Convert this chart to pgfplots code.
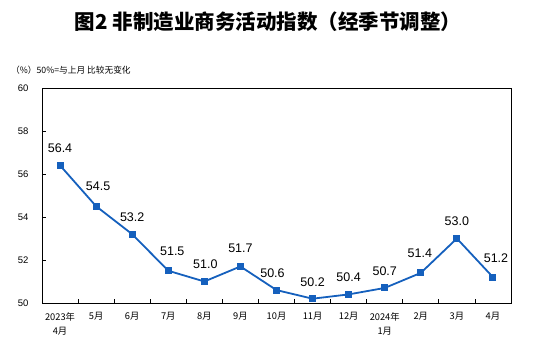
\documentclass[border=0pt]{standalone}
\usepackage{pgfplots}
\pgfplotsset{compat=1.18}
\usepackage{pgfplotstable}
\usepackage{fontspec}
\setmainfont{Liberation Sans}
\newfontfamily\cjk{Noto Sans CJK SC}
\definecolor{lineblue}{RGB}{21,96,189}

\pgfplotstableread{
x y label dx dy
0 56.4 56.4 0 17
1 54.5 54.5 2 20
2 53.2 53.2 0 17
3 51.5 51.5 4 19
4 51.0 51.0 1 17
5 51.7 51.7 0 18
6 50.6 50.6 -4 17
7 50.2 50.2 0 17
8 50.4 50.4 0 17
9 50.7 50.7 0 17
10 51.4 51.4 -1 20
11 53.0 53.0 0 17
12 51.2 51.2 3 19
}\datatable

\begin{document}
\begin{tikzpicture}[x=1pt,y=1pt]
\path[use as bounding box] (0,0) rectangle (535,358);
\node[font=\cjk\bfseries\fontsize{20.5}{24}\selectfont] at (268,336) {图2 非制造业商务活动指数（经季节调整）};
\node[anchor=west, inner sep=0pt, font=\cjk\fontsize{8.7}{10}\selectfont] at (11,288) {（\%）50\%=与上月 比较无变化};
\begin{axis}[
  at={(42pt,55pt)}, anchor=south west,
  width=469pt, height=215pt, scale only axis,
  xmin=-0.5, xmax=12.5, ymin=50, ymax=60,
  ytick={50,52,...,60},
  xtick={0.5,1.5,...,11.5},
  xticklabels={},
  extra x ticks={0,1,...,12},
  extra x tick labels={{2023年\\4月},5月,6月,7月,8月,9月,10月,11月,12月,{2024年\\1月},2月,3月,4月},
  extra x tick style={major tick length=0pt, tick label style={font=\cjk\fontsize{9.3}{14}\selectfont, align=center, yshift=-6pt}},
  tick pos=left,
  tick align=inside,
  major tick length=4pt,
  axis line style={black, line width=0.8pt},
  every tick/.style={black, line width=0.8pt},
  yticklabel style={font=\fontsize{9.5}{11}\selectfont, xshift=-10pt},
  /pgf/number format/assume math mode=true,
  clip=false,
]
\addplot[color=lineblue, line width=1.8pt, mark=square*, mark size=2.6pt,
  mark options={solid, fill=lineblue},
  visualization depends on={\thisrow{dx} \as \lblx},
  visualization depends on={\thisrow{dy} \as \lbly},
  nodes near coords, point meta=explicit symbolic,
  every node near coord/.style={anchor=center, xshift=\lblx, yshift=\lbly, font=\fontsize{12.5}{14}\selectfont, text=black, inner sep=0pt}
] table[x=x, y=y, meta=label] {\datatable};
\end{axis}
\end{tikzpicture}
\end{document}
